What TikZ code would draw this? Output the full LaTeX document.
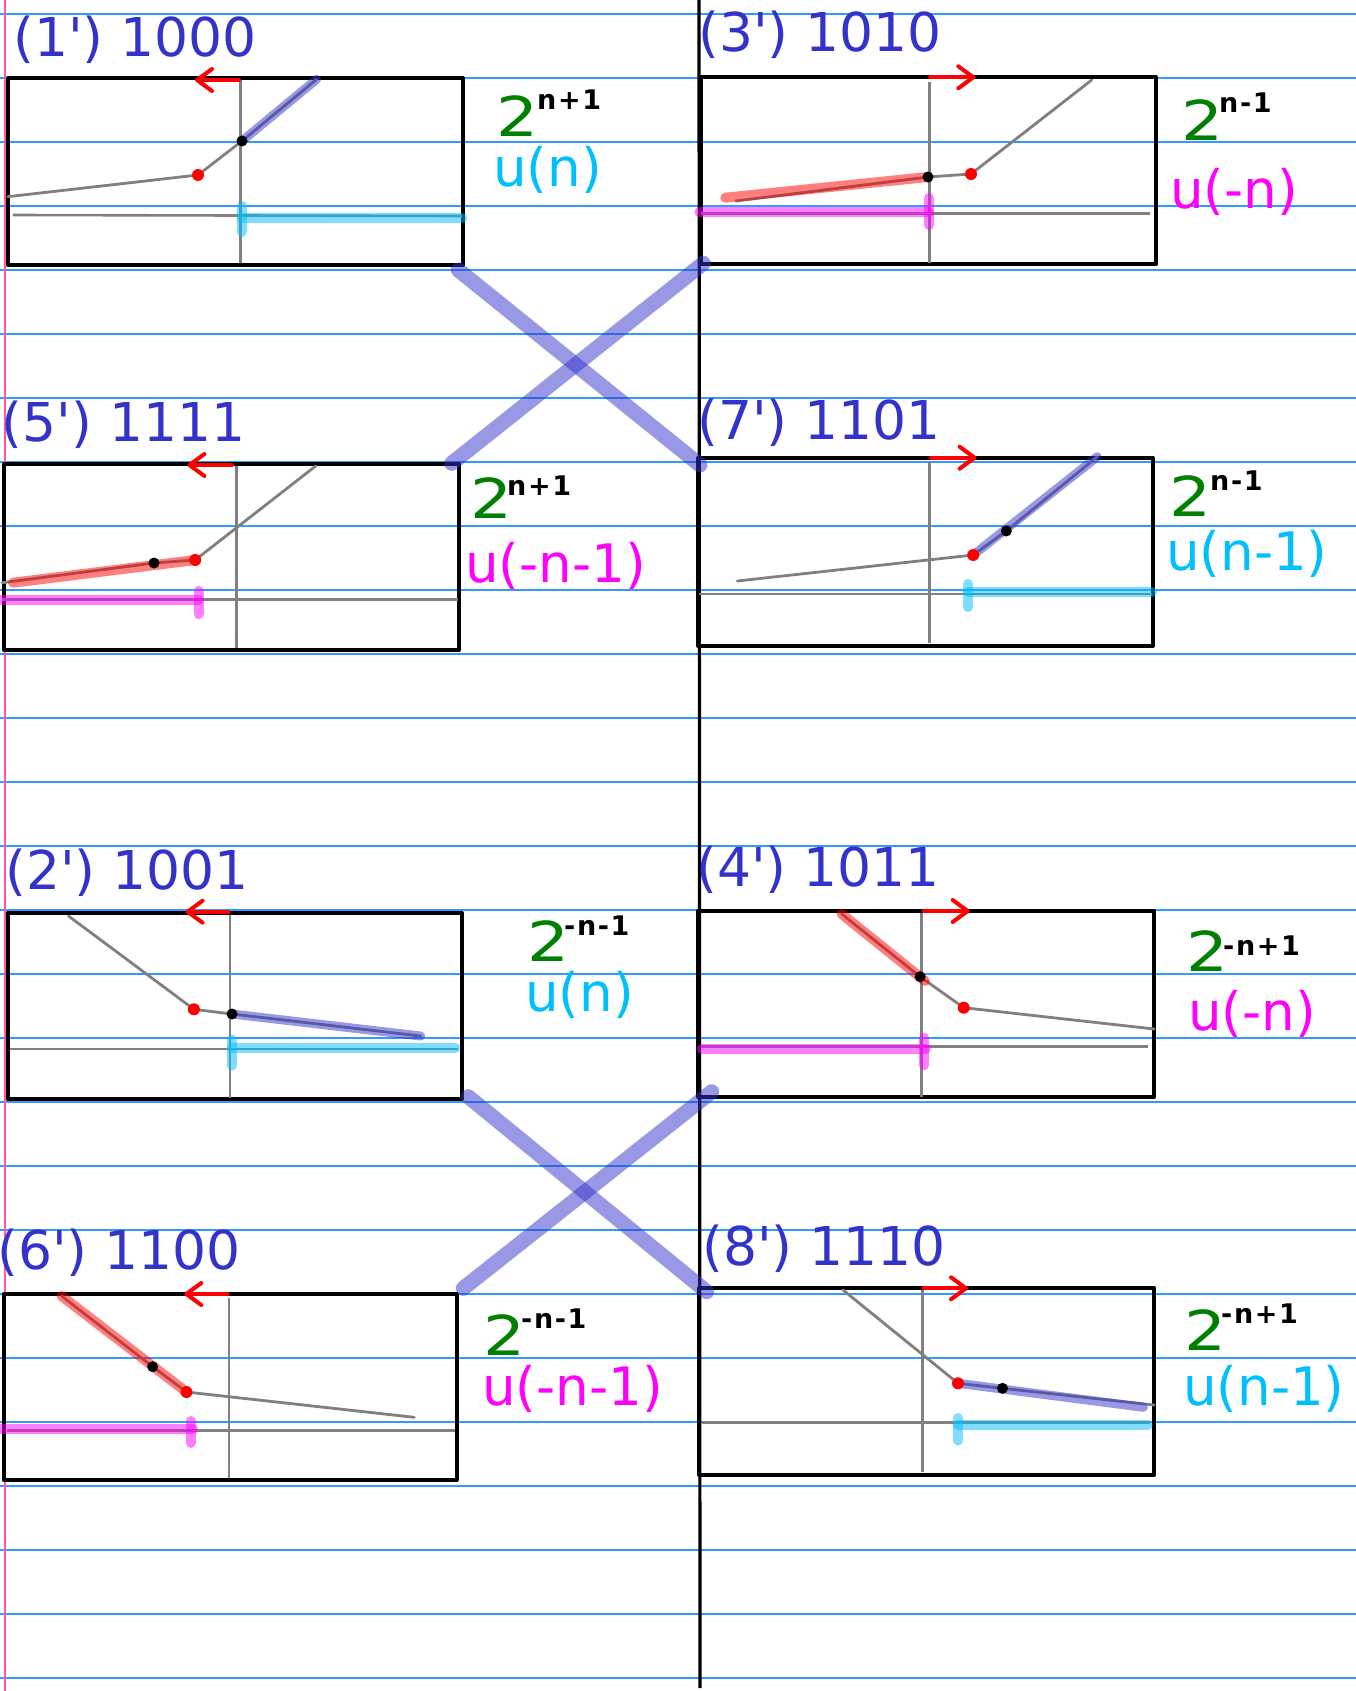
\documentclass[tikz,border=0pt]{standalone}
\usepackage{fontspec}
\setmainfont{DejaVu Sans}[Ligatures=TeXOff]
\usetikzlibrary{arrows.meta}
\definecolor{titleblue}{HTML}{3333CC}
\definecolor{rulecol}{HTML}{3399FF}
\definecolor{margincol}{HTML}{FF55AA}
\definecolor{axisgray}{HTML}{808080}
\definecolor{labcyan}{HTML}{00BFFF}
\definecolor{labmag}{HTML}{FF00FF}
\definecolor{labgreen}{HTML}{008000}
\newcommand{\ap}{'}
\tikzset{
  ruled/.style={draw=rulecol,line width=1.3pt},
  frame/.style={draw=black,line width=4pt,line join=round},
  axisline/.style={draw=axisgray,line width=2.6pt},
  graphline/.style={draw=axisgray,line width=2.8pt,line cap=round,line join=round},
  hlblue/.style={draw=titleblue,opacity=0.5,line width=9pt,line cap=round},
  hlred/.style={draw=red,opacity=0.5,line width=10pt,line cap=round},
  hlcyan/.style={draw=labcyan,opacity=0.5,line width=10pt,line cap=round},
  hlmag/.style={draw=labmag,opacity=0.5,line width=10pt,line cap=round},
  redarrow/.style={draw=red,line width=4pt,line cap=round,-{Straight Barb[length=15pt,width=22pt,round]}},
  crossline/.style={draw=titleblue,opacity=0.5,line width=15pt,line cap=round},
  title/.style={anchor=base west,inner sep=0pt,text=titleblue,font=\fontsize{53.5}{60}\selectfont},
  two/.style={anchor=base west,inner sep=0pt,text=labgreen,font=\fontsize{55}{60}\selectfont},
  supx/.style={anchor=base west,inner sep=0pt,text=black,font=\bfseries\fontsize{27}{30}\selectfont\addfontfeatures{LetterSpace=6}},
  ulab/.style={anchor=base west,inner sep=0pt,font=\fontsize{53}{60}\selectfont}
}
\newcommand{\rdot}[1]{\fill[red] #1 circle (6pt);}
\newcommand{\bdot}[1]{\fill[black] #1 circle (5.5pt);}
\newcommand{\two}{\scalebox{1.2}[1]{2}}
\begin{document}
\begin{tikzpicture}[x=1pt,y=-1pt]
\useasboundingbox (0,0) rectangle (1356,1691);
\fill[white] (0,0) rectangle (1356,1691);
% ruled paper
\foreach \k in {0,...,26} {\draw[ruled] (0,{14+64*\k}) -- (1356,{14+64*\k});}
\draw[draw=margincol,line width=1.3pt] (5,0) -- (5,1691);
\draw[line width=3.2pt] (699,0) -- (700,1688);

% ---------- Box 1 ----------
\node[title] (t1) at (13,56.7) {(1\ap) 1000};
\draw[frame] (7.8,78.3) rectangle (463,265);
\draw[axisline] (240.7,80) -- (240.7,263);
\draw[axisline] (13,215) -- (462,216);
\draw[graphline] (7.8,196.7) -- (198,175) -- (242,141) -- (316.6,79.3);
\draw[hlblue] (242,141) -- (316.6,79.3);
\draw[hlcyan] (242,218.3) -- (462,218.3);
\draw[hlcyan] (242,206) -- (242,232);
\rdot{(198,175)} \bdot{(242,141)}
\draw[redarrow] (239,80) -- (195,80);
\node[two] (p1) at (496,136.7) {\two};
\node[supx] (s1) at (537,110) {n+1};
\node[ulab,text=labcyan] (u1) at (493,186.7) {u(n)};

% ---------- Box 3 ----------
\node[title] (t3) at (698,51.7) {(3\ap) 1010};
\draw[frame] (700.7,77.3) rectangle (1156.4,264);
\draw[axisline] (929.2,81.7) -- (929.2,263);
\draw[axisline] (700.7,213.3) -- (1150,213.3);
\draw[graphline] (736,201) -- (928,177) -- (971,174) -- (1091.7,80);
\draw[hlred] (725.3,197.7) -- (928,177);
\draw[hlmag] (699.4,212.3) -- (929,212.3);
\draw[hlmag] (929,198) -- (929,225);
\bdot{(928,177)} \rdot{(971,174)}
\draw[redarrow] (930,77.3) -- (975.3,77.3);
\node[two] (p3) at (1181,140) {\two};
\node[supx] (s3) at (1219,113) {n-1};
\node[ulab,text=labmag] (u3) at (1170,208.3) {u(-n)};

% ---------- Box 5 ----------
\node[title] (t5) at (1.6,441.7) {(5\ap) 1111};
\draw[frame] (4.3,464) rectangle (458.9,650);
\draw[axisline] (236.4,466) -- (236.4,648);
\draw[axisline] (2,599.3) -- (457.5,599.3);
\draw[graphline] (2.2,582.7) -- (154,563) -- (195.2,560) -- (315.7,466);
\draw[hlred] (13,582.7) -- (195.2,560);
\draw[hlmag] (0,600) -- (198.6,600);
\draw[hlmag] (198.6,591) -- (198.6,614);
\bdot{(154,563)} \rdot{(195.2,560)}
\draw[redarrow] (232,465) -- (187.4,465);
\node[two] (p5) at (470,518) {\two};
\node[supx] (s5) at (507,495) {n+1};
\node[ulab,text=labmag] (u5) at (465,582.7) {u(-n-1)};

% ---------- Box 7 ----------
\node[title] (t7) at (697,439.3) {(7\ap) 1101};
\draw[frame] (698,458.3) rectangle (1153.4,645.7);
\draw[axisline] (929.2,461.7) -- (929.2,643.3);
\draw[axisline] (699,594) -- (1152,594);
\draw[graphline] (737.3,581) -- (973.2,555) -- (1006.3,531) -- (1097.3,456.7);
\draw[hlblue] (973.2,555) -- (1097.3,456.7);
\draw[hlcyan] (968,592.3) -- (1152,592.3);
\draw[hlcyan] (968,584) -- (968,607);
\rdot{(973.2,555)} \bdot{(1006.3,531)}
\draw[redarrow] (931,457.7) -- (976.6,457.7);
\node[two] (p7) at (1169,516.7) {\two};
\node[supx] (s7) at (1210,490) {n-1};
\node[ulab,text=labcyan] (u7) at (1166,570) {u(n-1)};

% ---------- Box 2 ----------
\node[title] (t2) at (5,889.3) {(2\ap) 1001};
\draw[frame] (7.8,912.7) rectangle (461.9,1099.3);
\draw[axisline] (229.9,915) -- (229.9,1098.3);
\draw[axisline] (9.5,1049) -- (457.6,1049);
\draw[graphline] (68.5,916) -- (193.9,1009.3) -- (232,1014) -- (420.7,1036);
\draw[hlblue] (232,1014) -- (420.7,1036);
\draw[hlcyan] (232,1048.3) -- (455.4,1048.3);
\draw[hlcyan] (232,1039.5) -- (232,1065.5);
\rdot{(193.9,1009.3)} \bdot{(232,1014)}
\draw[redarrow] (228.6,911.7) -- (185.6,911.7);
\node[two] (p2) at (527,961.7) {\two};
\node[supx] (s2) at (564,935) {-n-1};
\node[ulab,text=labcyan] (u2) at (525,1011.7) {u(n)};

% ---------- Box 4 ----------
\node[title] (t4) at (696,886.7) {(4\ap) 1011};
\draw[frame] (698.1,910.7) rectangle (1154.2,1097.3);
\draw[axisline] (921.4,913.3) -- (921.4,1096.7);
\draw[axisline] (700.7,1046.7) -- (1147.7,1046.7);
\draw[graphline] (841.7,914) -- (920.1,976.7) -- (963.7,1007.7) -- (1154.2,1029);
\draw[hlred] (841.7,914) -- (925,981);
\draw[hlmag] (701.6,1049.3) -- (925.7,1049.3);
\draw[hlmag] (924.4,1038) -- (924.4,1065);
\bdot{(920.1,976.7)} \rdot{(963.7,1007.7)}
\draw[redarrow] (923.6,911) -- (969.7,911);
\node[two] (p4) at (1186,971.7) {\two};
\node[supx] (s4) at (1223,955) {-n+1};
\node[ulab,text=labmag] (u4) at (1188,1030.7) {u(-n)};

% ---------- Box 6 ----------
\node[title] (t6) at (-3,1269.3) {(6\ap) 1100};
\draw[frame] (3.5,1294) rectangle (456.7,1480);
\draw[axisline] (229,1298.3) -- (229,1478.3);
\draw[axisline] (6.5,1430.7) -- (455.4,1430.7);
\draw[graphline] (61.6,1296) -- (152.7,1366.7) -- (186.5,1392) -- (414.2,1417.3);
\draw[hlred] (61.6,1296) -- (186.5,1392);
\draw[hlmag] (0,1428.7) -- (193,1428.7);
\draw[hlmag] (190.8,1421) -- (190.8,1443);
\bdot{(152.7,1366.7)} \rdot{(186.5,1392)}
\draw[redarrow] (227.7,1294) -- (184.3,1294);
\node[two] (p6) at (483,1355) {\two};
\node[supx] (s6) at (521,1328.3) {-n-1};
\node[ulab,text=labmag] (u6) at (482,1405) {u(-n-1)};

% ---------- Box 8 ----------
\node[title] (t8) at (702,1265) {(8\ap) 1110};
\draw[frame] (699.4,1287.7) rectangle (1154.2,1475);
\draw[axisline] (922.3,1290) -- (922.3,1471.7);
\draw[axisline] (701.6,1422.7) -- (1150,1422.7);
\draw[graphline] (843,1290) -- (958,1383.3) -- (1002.5,1388.3) -- (1154.2,1405);
\draw[hlblue] (958,1383.3) -- (1143.4,1407.3);
\draw[hlcyan] (958,1425) -- (1147.7,1425);
\draw[hlcyan] (958,1418) -- (958,1440.5);
\rdot{(958,1383.3)} \bdot{(1002.5,1388.3)}
\draw[redarrow] (923.6,1288.3) -- (968,1288.3);
\node[two] (p8) at (1184,1350) {\two};
\node[supx] (s8) at (1221,1323) {-n+1};
\node[ulab,text=labcyan] (u8) at (1183,1405) {u(n-1)};

% ---------- crosses ----------
\coordinate (c1a) at (458.3,270);
\coordinate (c1b) at (700,465);
\coordinate (c1c) at (703.3,263.3);
\coordinate (c1d) at (451.7,463.3);
\draw[crossline] (c1a) -- (c1b);
\draw[crossline] (c1c) -- (c1d);
\coordinate (c2a) at (468.3,1096.7);
\coordinate (c2b) at (706.7,1291.7);
\coordinate (c2c) at (711.7,1091.7);
\coordinate (c2d) at (463.3,1288.3);
\draw[crossline] (c2a) -- (c2b);
\draw[crossline] (c2c) -- (c2d);
\end{tikzpicture}
\end{document}
